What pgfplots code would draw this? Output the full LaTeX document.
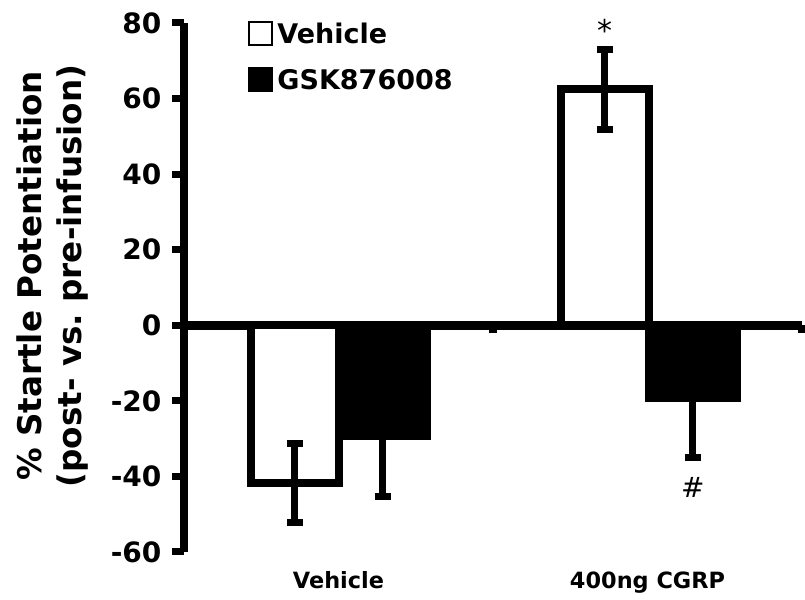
\documentclass[border=0pt]{standalone}
\usepackage{fontspec}
\setmainfont{DejaVu Sans}
\usepackage{pgfplots}
\pgfplotsset{compat=1.18}
\begin{document}
\begin{tikzpicture}
\useasboundingbox (-92pt,-24pt) rectangle (310.5pt,276pt);
\begin{axis}[
  at={(0,0)}, anchor=south west,
  scale only axis, width=309pt, height=264.5pt,
  xmin=0, xmax=2, ymin=-60, ymax=80,
  clip=false,
  axis y line=left, axis x line=middle,
  axis line style={-, line width=4pt, black},
  x axis line style={line width=4.5pt},
  ytick={-60,-40,-20,0,20,40,60,80},
  yticklabels={-60,-40,-20,0,20,40,60,80},
  ytick style={line width=3.5pt, black},
  major tick length=5.75pt,
  tick align=outside,
  xtick={1,2}, xticklabels={},
  xtick style={line width=4pt, black, /pgfplots/major tick length=4pt},
  yticklabel style={font=\bfseries\fontsize{14}{16}\selectfont, xshift=-2pt},
  ylabel={\% Startle Potentiation\\(post- vs.\ pre-infusion)},
  every axis y label/.style={at={(rel axis cs:0,0.5)}, xshift=-65.75pt, yshift=5.75pt, rotate=90, anchor=center, align=center, font=\bfseries\fontsize{16.3}{20}\selectfont},
  legend style={draw=none, fill=none, at={(rel axis cs:0.1036,1)}, yshift=2pt, anchor=north west,
    font=\bfseries\fontsize{13.5}{16}\selectfont, inner sep=0pt, row sep=7.5pt,
    cells={anchor=west}},
]
\addplot[ybar, bar width=0.285, bar shift=0pt, draw=black, fill=white, line width=4pt,
  legend image code/.code={\draw[draw=black, fill=white, line width=1pt] (0pt,-5pt) rectangle (11.5pt,6.5pt);},
  error bars/.cd, y dir=both, y explicit,
  error bar style={line width=3.5pt, black},
  error mark options={rotate=90, line width=3.5pt, mark size=4pt, black}]
  coordinates {(0.359,-41.7) +- (0,10.5) (1.362,62.4) +- (0,10.6)};
\addlegendentry{Vehicle}
\addplot[ybar, bar width=0.285, bar shift=0pt, draw=black, fill=black, line width=4pt,
  legend image code/.code={\draw[draw=black, fill=black, line width=1pt] (0pt,-5pt) rectangle (11.5pt,6.5pt);},
  error bars/.cd, y dir=both, y explicit,
  error bar style={line width=3.5pt, black},
  error mark options={rotate=90, line width=3.5pt, mark size=4pt, black}]
  coordinates {(0.644,-29.4) +- (0,15.8) (1.647,-19.2) +- (0,15.8)};
\addlegendentry{GSK876008}
\node[anchor=base, yshift=-18.5pt, font=\bfseries\fontsize{11.2}{13}\selectfont] at (axis cs:0.5,-60) {Vehicle};
\node[anchor=base, yshift=-18.5pt, font=\bfseries\fontsize{11.2}{13}\selectfont] at (axis cs:1.5,-60) {400ng CGRP};
\node[anchor=north, inner sep=0pt, font=\fontsize{15}{17}\selectfont] at (axis cs:1.362,81.2) {*};
\node[anchor=north, inner sep=0pt, font=\fontsize{14}{16}\selectfont] at (axis cs:1.647,-40.2) {\#};
\end{axis}
\end{tikzpicture}
\end{document}
